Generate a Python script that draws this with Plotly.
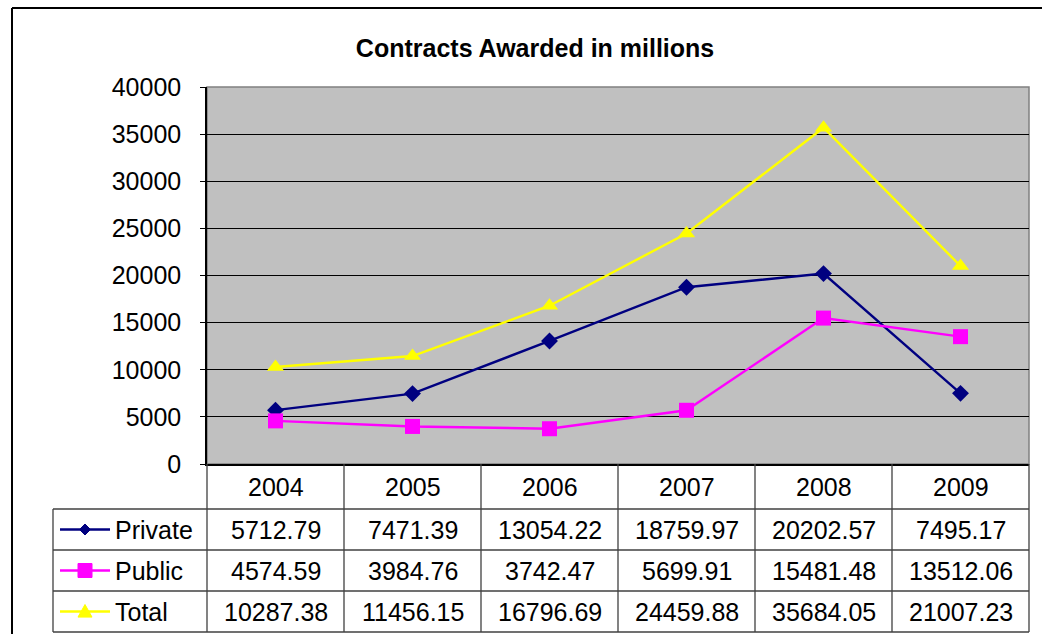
import plotly.graph_objects as go

years = ["2004", "2005", "2006", "2007", "2008", "2009"]
private = [5712.79, 7471.39, 13054.22, 18759.97, 20202.57, 7495.17]
public = [4574.59, 3984.76, 3742.47, 5699.91, 15481.48, 13512.06]
total = [10287.38, 11456.15, 16796.69, 24459.88, 35684.05, 21007.23]
series_names = ["Private", "Public", "Total"]
y_ticks = [0, 5000, 10000, 15000, 20000, 25000, 30000, 35000, 40000]

colors = {"Private": "#000080", "Public": "#FF00FF", "Total": "#FFFF00"}
symbols = {"Private": "diamond", "Public": "square", "Total": "triangle-up"}
msizes = {"Private": 13, "Public": 15, "Total": 15}
values = {"Private": private, "Public": public, "Total": total}

W, H = 1042, 634
L, R, T, B = 207, 1029, 87, 464
FONT = "Liberation Sans, Arial, sans-serif"
FS = 25


def px(x):
    return (x - L) / (R - L)


def py(y):
    return (B - y) / (B - T)


fig = go.Figure()
xs = list(range(len(years)))
for name in series_names:
    fig.add_trace(go.Scatter(
        x=xs, y=values[name], mode="lines+markers", name=name,
        line=dict(color=colors[name], width=2.4),
        marker=dict(symbol=symbols[name], size=msizes[name], color=colors[name]),
        showlegend=False,
    ))

shapes = []
annotations = []

# plot area background + border
shapes.append(dict(type="rect", xref="paper", yref="paper", x0=0, x1=1, y0=0, y1=1,
                   line=dict(color="#808080", width=1.5), fillcolor="#C0C0C0", layer="below"))

# outer chart border (top and left)
shapes.append(dict(type="line", xref="paper", yref="paper", x0=px(12), x1=px(1042), y0=py(8), y1=py(8),
                   line=dict(color="black", width=2)))
shapes.append(dict(type="line", xref="paper", yref="paper", x0=px(12), x1=px(12), y0=py(8), y1=py(634),
                   line=dict(color="black", width=2)))

# data table
col_w = (R - L) / len(years)
row_lines = [509, 550, 591, 632]
line_style = dict(color="#404040", width=1.3)
for k in range(len(years) + 1):
    xk = L + k * col_w
    shapes.append(dict(type="line", xref="paper", yref="paper", x0=px(xk), x1=px(xk),
                       y0=py(B), y1=py(632), line=line_style))
shapes.append(dict(type="line", xref="paper", yref="paper", x0=px(53), x1=px(53),
                   y0=py(509), y1=py(632), line=line_style))
for yl in row_lines:
    shapes.append(dict(type="line", xref="paper", yref="paper", x0=px(53), x1=px(R),
                       y0=py(yl), y1=py(yl), line=line_style))

# year header
for k, yr in enumerate(years):
    annotations.append(dict(x=px(L + (k + 0.5) * col_w), y=py(487), xref="paper", yref="paper",
                            text=yr, showarrow=False, xanchor="center", yanchor="middle",
                            font=dict(family=FONT, size=FS, color="black")))


def marker_path(name, cx, cy, s):
    h = s / 2
    if name == "Private":
        pts = [(cx, cy - h), (cx + h, cy), (cx, cy + h), (cx - h, cy)]
    elif name == "Public":
        pts = [(cx - h, cy - h), (cx + h, cy - h), (cx + h, cy + h), (cx - h, cy + h)]
    else:
        pts = [(cx, cy - h), (cx + h, cy + h * 0.8), (cx - h, cy + h * 0.8)]
    d = "M " + " L ".join(f"{px(a):.5f},{py(b):.5f}" for a, b in pts) + " Z"
    return d


row_centers = [529.5, 570.5, 611.5]
key_sizes = {"Private": 11, "Public": 14, "Total": 14}
for r, name in enumerate(series_names):
    yc = row_centers[r]
    for k, v in enumerate(values[name]):
        annotations.append(dict(x=px(L + (k + 0.5) * col_w), y=py(yc), xref="paper", yref="paper",
                                text=f"{v:.2f}", showarrow=False, xanchor="center", yanchor="middle",
                                font=dict(family=FONT, size=FS, color="black")))
    # legend key line + marker
    shapes.append(dict(type="line", xref="paper", yref="paper", x0=px(60), x1=px(110),
                       y0=py(yc), y1=py(yc), line=dict(color=colors[name], width=2.4)))
    shapes.append(dict(type="path", xref="paper", yref="paper",
                       path=marker_path(name, 85, yc, key_sizes[name]),
                       fillcolor=colors[name], line=dict(color=colors[name], width=1)))
    annotations.append(dict(x=px(113), y=py(yc), xref="paper", yref="paper",
                            text=name, showarrow=False, xanchor="left", yanchor="middle",
                            font=dict(family=FONT, size=FS, color="black")))

fig.update_layout(
    width=W, height=H,
    margin=dict(l=L, r=W - R, t=T, b=H - B),
    paper_bgcolor="white", plot_bgcolor="#C0C0C0",
    title=dict(text="<b>Contracts Awarded in millions</b>", x=0.5135, xanchor="center",
               y=1 - 48 / H, yanchor="middle",
               font=dict(family=FONT, size=25, color="black")),
    xaxis=dict(range=[-0.5, len(years) - 0.5], showticklabels=False, showgrid=False,
               zeroline=False, showline=True, linecolor="black", linewidth=1.5, ticks=""),
    yaxis=dict(range=[0, 40000], tickvals=y_ticks, ticktext=[str(v) for v in y_ticks],
               ticks="outside", ticklen=5, tickcolor="black",
               tickwidth=1, showgrid=True, gridcolor="black", gridwidth=1, zeroline=False,
               showline=True, linecolor="black", linewidth=1.5,
               tickfont=dict(family=FONT, size=FS, color="black"), ticklabelstandoff=14),
    shapes=shapes, annotations=annotations,
)

fig.write_html("out.html", config={"displayModeBar": False},
               post_script="document.body.style.margin='0';")
